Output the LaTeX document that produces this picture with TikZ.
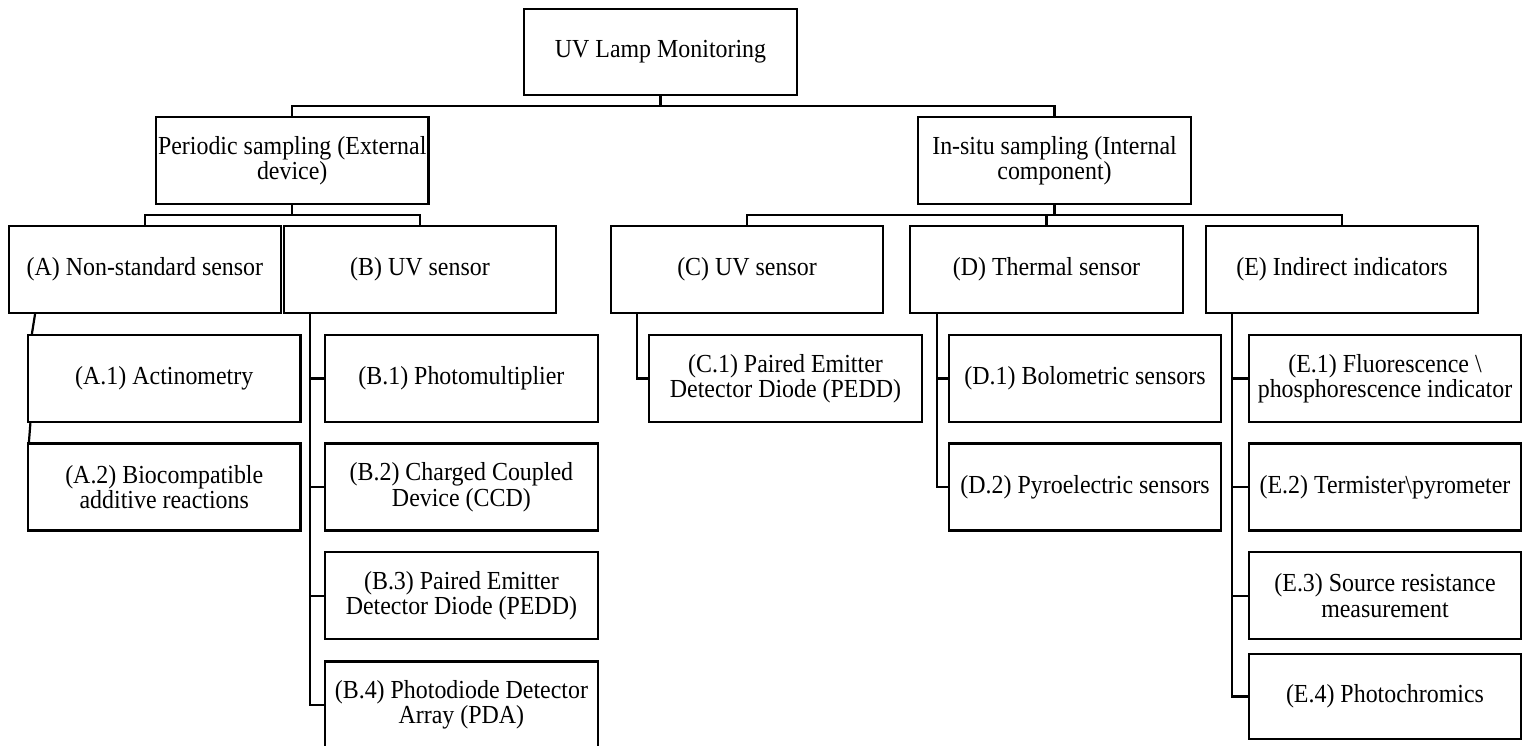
\documentclass[tikz,border=0pt]{standalone}
\usepackage{fontspec}
\setmainfont{Liberation Serif}[FakeStretch=0.92]
\usetikzlibrary{calc}
\tikzset{
  box/.style={draw=black, line width=2.2pt, minimum width=272.5pt, minimum height=87pt,
    inner sep=0pt, align=center, font=\fontsize{26}{25.5}\selectfont},
  conn/.style={draw=black, line width=2.2pt}
}
\begin{document}
\begin{tikzpicture}[x=1pt,y=-1pt]
\useasboundingbox (0,0) rectangle (1528,745);
% level 0
\node[box, minimum width=273pt, minimum height=86.6pt] (top) at (660.5,52) {UV Lamp Monitoring};
% level 1
\node[box] (per) at (292.2,160.5) {Periodic sampling (External\\device)};
\node[box] (ins) at (1054.5,160.5) {In-situ sampling (Internal\\component)};
% level 2
\node[box] (A) at (144.9,269.5) {(A) Non-standard sensor};
\node[box] (B) at (420,269.5) {(B) UV sensor};
\node[box] (C) at (747,269.5) {(C) UV sensor};
\node[box] (D) at (1046.5,269.5) {(D) Thermal sensor};
\node[box] (E) at (1342,269.5) {(E) Indirect indicators};
% level 3
\node[box] (A1) at (164.25,378.5) {(A.1) Actinometry};
\node[box] (A2) at (164.25,487) {(A.2) Biocompatible\\additive reactions};
\node[box] (B1) at (461.4,378.5) {(B.1) Photomultiplier};
\node[box] (B2) at (461.4,487) {(B.2) Charged Coupled\\Device (CCD)};
\node[box] (B3) at (461.4,595.7) {(B.3) Paired Emitter\\Detector Diode (PEDD)};
\node[box] (B4) at (461.4,705) {(B.4) Photodiode Detector\\Array (PDA)};
\node[box] (C1) at (785.5,378.5) {(C.1) Paired Emitter\\Detector Diode (PEDD)};
\node[box] (D1) at (1085,378.5) {(D.1) Bolometric sensors};
\node[box] (D2) at (1085,487) {(D.2) Pyroelectric sensors};
\node[box] (E1) at (1385,378.5) {(E.1) Fluorescence \textbackslash\\phosphorescence indicator};
\node[box] (E2) at (1385,487) {(E.2) Termister\textbackslash pyrometer};
\node[box] (E3) at (1385,595.7) {(E.3) Source resistance\\measurement};
\node[box, minimum height=85pt] (E4) at (1385,696.5) {(E.4) Photochromics};
% buses
\coordinate (bus0) at (660.5,106);
\coordinate (busP) at (292.2,215);
\coordinate (busI) at (1054.5,215);
\draw[conn] (top.south) -- (bus0);
\draw[conn] (per.north) |- (bus0) -| (ins.north);
\draw[conn] (per.south) -- (busP);
\draw[conn] (A.north) |- (busP) -| (B.north);
\draw[conn] (ins.south) -- (busI);
\draw[conn] (C.north) |- (busI) -| (E.north);
\draw[conn] (D.north) -- (D.north |- busI);
% A children (slanted links)
\draw[conn] ($(A.south west)+(27.5,0)$) -- ($(A1.north west)+(5,0)$);
\draw[conn] ($(A1.south west)+(3.5,0)$) -- ($(A2.north west)+(2,0)$);
% trunks
\coordinate (Bt) at ($(B.south west)+(27.7,0)$);
\coordinate (Ct) at ($(C.south west)+(27,0)$);
\coordinate (Dt) at ($(D.south west)+(27.8,0)$);
\coordinate (Et) at ($(E.south west)+(27.5,0)$);
\draw[conn] (Bt) |- (B1.west);
\draw[conn] (Bt) |- (B2.west);
\draw[conn] (Bt) |- (B3.west);
\draw[conn] (Bt) |- (B4.west);
\draw[conn] (Ct) |- (C1.west);
\draw[conn] (Dt) |- (D1.west);
\draw[conn] (Dt) |- (D2.west);
\draw[conn] (Et) |- (E1.west);
\draw[conn] (Et) |- (E2.west);
\draw[conn] (Et) |- (E3.west);
\draw[conn] (Et) |- (E4.west);
\end{tikzpicture}
\end{document}
